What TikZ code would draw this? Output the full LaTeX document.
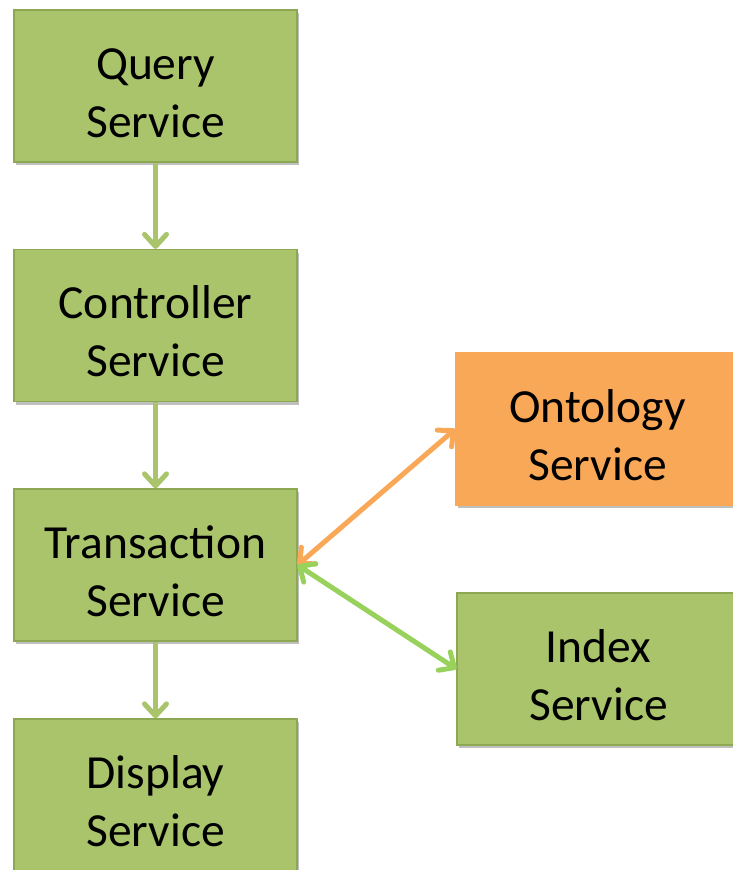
\documentclass[tikz,border=0pt]{standalone}
\usepackage{fontspec}
\setmainfont{Carlito}
\usepackage{xcolor}
\definecolor{boxgreen}{HTML}{A9C46B}
\definecolor{edgegreen}{HTML}{8CA852}
\definecolor{boxorange}{HTML}{F9A857}
\definecolor{linkgreen}{HTML}{98D25C}
\usepackage{tikz}
\usetikzlibrary{positioning,shadows}
\usetikzlibrary{arrows.meta}
\tikzset{>={Straight Barb[length=12pt,width=22pt,line width=5pt,round]}}
\tikzset{
  service/.style={rectangle, draw=edgegreen, line width=1.2pt, fill=boxgreen,
    minimum width=283pt, minimum height=152pt, inner sep=0pt, align=center,
    font=\fontsize{47.5}{58}\selectfont,
    drop shadow={shadow xshift=2pt, shadow yshift=-3pt, opacity=0.25, fill=black}},
  extservice/.style={service, draw=boxorange, fill=boxorange},
  flow/.style={->, line width=5pt, draw=boxgreen},
  orangelink/.style={<->, line width=5pt, draw=boxorange},
  greenlink/.style={<->, line width=5pt, draw=linkgreen}
}
\newcommand{\svclines}[2]{\rule{0pt}{45pt}#1\\#2}

\begin{document}
\begin{tikzpicture}[x=1pt,y=-1pt]

\useasboundingbox (0,0) rectangle (733,870);

\node[service] (query) at (155.5, 86) {\svclines{Query}{Service}};
\node[service] (ctrl) at (155.5, 325.5) {\svclines{Controller}{Service}};
\node[service] (trans) at (155.5, 565) {\svclines{Transaction}{Service}};
\node[service] (disp) at (155.5, 795) {\svclines{Display}{Service}};
\node[extservice] (onto) at (597.5, 429) {\svclines{Ontology}{Service}};
\node[service] (index) at (598.5, 669) {\svclines{Index}{Service}};

\draw[flow] (query.south) -- (ctrl.north);
\draw[flow] (ctrl.south) -- (trans.north);
\draw[flow] (trans.south) -- (disp.north);

\draw[orangelink] (trans.east) -- (onto.west);
\draw[greenlink] (trans.east) -- (index.west);

\end{tikzpicture}
\end{document}
